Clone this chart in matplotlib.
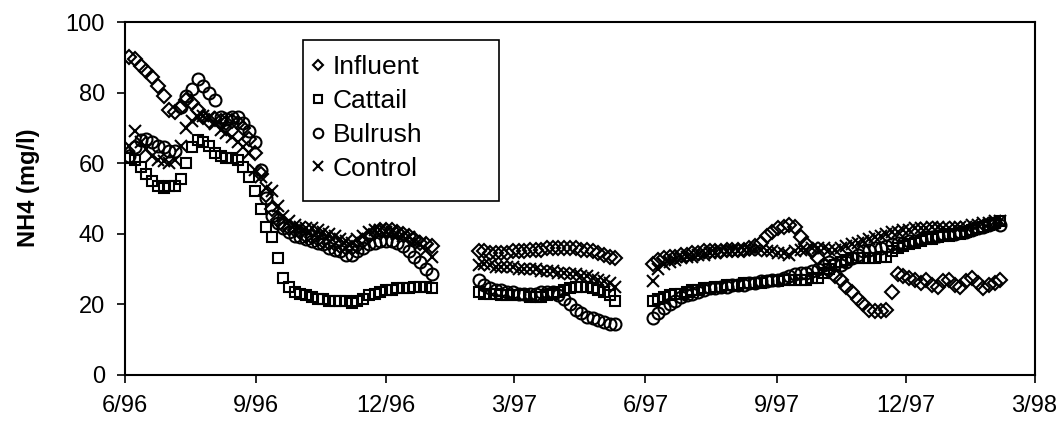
"""
Recreate the NH4 time-series scatter (influent vs. three wetland cells).
"""

import matplotlib

matplotlib.use("Agg")
import matplotlib.pyplot as plt
import pandas as pd
from matplotlib.patches import Rectangle

# ---------------------------------------------------------------------------
# Data
# ---------------------------------------------------------------------------

START = "1996-06-01"

# sampling days, counted from START; three sampling periods with gaps
sample_day = [
    # Jun 96 - Jan 97
    3, 7, 11, 15, 19, 23, 27, 31, 35, 39,
    43, 47, 51, 55, 59, 63, 67, 71, 75, 79,
    83, 87, 91, 95, 99, 103, 107, 111, 115, 119,
    123, 127, 131, 135, 139, 143, 147, 151, 155, 159,
    163, 167, 171, 175, 179, 183, 187, 191, 195, 199,
    203, 207, 211, 215,
    # Feb 97 - May 97
    248, 252, 256, 260, 264, 268, 272, 276, 280, 284,
    288, 292, 296, 300, 304, 308, 312, 316, 320, 324,
    328, 332, 336, 340, 344,
    # Jun 97 - Feb 98
    370, 374, 378, 382, 386, 390, 394, 398, 402, 406,
    410, 414, 418, 422, 426, 430, 434, 438, 442, 446,
    450, 454, 458, 462, 466, 470, 474, 478, 482, 486,
    490, 494, 498, 502, 506, 510, 514, 518, 522, 526,
    530, 534, 538, 542, 546, 550, 554, 558, 562, 566,
    570, 574, 578, 582, 586, 590, 594, 598, 602, 606,
    610, 614,
]

influent = [
    90, 89.5, 87.5, 86, 84.5, 82, 79, 75, 74.5, 76,
    78, 77, 75, 73, 72, 72.5, 72, 71.5, 72, 71.5,
    70, 67, 63, 57, 51, 47, 44, 42.5, 41.5, 41,
    40.5, 39.5, 39, 38.5, 38, 37.5, 37, 36.5, 36, 36,
    36.5, 38, 39.5, 40.5, 41, 41, 41, 40.5, 40, 39.5,
    38.5, 37.5, 37, 36.5,
    35, 35, 34.5, 34.5, 34.5, 34.5, 35, 35, 35, 35.5,
    35.5, 35.5, 36, 36, 36, 36, 36, 36, 35.5, 35.5,
    35, 34.5, 34, 33.5, 33,
    31.5, 32.5, 33, 33.5, 33.5, 34, 34, 34.5, 34.5, 35,
    35, 35, 35, 35.5, 35.5, 35.5, 35.5, 36, 36.5, 37.5,
    39.5, 40.5, 41.5, 42, 42.5, 42, 39, 37, 35, 33,
    31, 29.5, 28, 27, 25, 23.5, 21.5, 20, 18.5, 18,
    18, 18.5, 23.5, 28.5, 28, 27.5, 27, 26, 27, 25.5,
    25, 26.5, 27, 25.5, 25, 26.5, 27.5, 26, 24.5, 25.5,
    26, 27,
]

cattail = [
    61.5, 61, 59, 57, 55, 53.5, 53, 53.5, 53.5, 55.5,
    60, 64.5, 66.5, 66, 65, 63, 62, 61.5, 61.5, 61,
    59, 56, 52, 47, 42, 39, 33, 27.5, 25, 23.5,
    23, 22.5, 22, 21.5, 21.5, 21, 21, 21, 21, 20.5,
    21, 21.5, 22.5, 23, 23.5, 24, 24, 24.5, 24.5, 24.5,
    25, 25, 25, 24.5,
    23.5, 23, 23, 23, 22.5, 22.5, 22.5, 22.5, 22.5, 22,
    22, 22, 22.5, 23, 23.5, 24, 24.5, 25, 25, 25,
    24.5, 24, 23.5, 22.5, 21,
    21, 21.5, 22, 22.5, 23, 23, 23.5, 24, 24, 24.5,
    24.5, 25, 25, 25.5, 25.5, 25.5, 26, 26, 26, 26,
    26.5, 26.5, 26.5, 27, 27, 27, 27, 27, 27.5, 27.5,
    29, 30, 31, 32, 32.5, 33, 33, 33, 33, 33,
    33.5, 33.5, 35, 36, 36.5, 37, 37.5, 38, 38.5, 38.5,
    39, 39.5, 39.5, 40, 40, 40.5, 41, 41.5, 42, 42.5,
    43, 43.5,
]

bulrush = [
    62, 64.5, 66.5, 67, 66, 65, 64.5, 63.5, 63.5, 76,
    79, 81, 84, 82, 80, 78, 73, 72.5, 73, 73,
    71.5, 69, 66, 58, 50, 45, 43, 41.5, 40.5, 39.5,
    39, 38.5, 38, 37.5, 37, 36, 35.5, 35, 34, 34,
    35, 36, 37, 37.5, 38, 38, 38, 37.5, 36.5, 35,
    33.5, 32, 30, 28.5,
    27, 25.5, 24.5, 24, 24, 23.5, 23.5, 23, 23, 23,
    23, 23.5, 23.5, 23.5, 22.5, 21.5, 20, 18.5, 17.5, 16.5,
    16, 15.5, 15, 14.5, 14.5,
    16, 17.5, 19, 20, 21, 22, 22.5, 23, 23.5, 24,
    24.5, 24.5, 25, 25, 25.5, 25.5, 25.5, 26, 26, 26.5,
    26.5, 27, 27, 27.5, 28, 28.5, 29, 29, 29.5, 30,
    31, 32, 31.5, 31, 32, 33, 34, 35, 35.5, 36,
    36, 36.5, 37, 37.5, 37.5, 38, 38, 38.5, 39, 39,
    39.5, 40, 40, 40, 40.5, 40.5, 41, 41.5, 42, 42.5,
    43, 42.5,
]

control = [
    65, 69, 66, 64, 62, 61, 60.5, 60, 61, 65,
    70, 72, 73, 73.5, 73, 71, 69.5, 68.5, 67.5, 66,
    64.5, 63, 58, 56, 53, 52, 48, 45, 43.5, 42.5,
    42, 41.5, 41.5, 41, 40.5, 40, 39.5, 38.5, 38, 37.5,
    38.5, 39.5, 40.5, 41, 41, 40.5, 40.5, 40, 39.5, 39,
    38, 37, 35.5, 33.5,
    31, 31.5, 31, 30.5, 30.5, 30.5, 30.5, 30, 30, 30,
    30, 29.5, 29.5, 29.5, 29, 29, 28.5, 28.5, 28, 28,
    27.5, 27, 26.5, 26, 25,
    26.5, 30, 31.5, 32, 32.5, 33, 33.5, 33.5, 34, 34,
    34.5, 34.5, 35, 35, 35, 35, 35.5, 35.5, 35.5, 35.5,
    35, 35, 34.5, 34.5, 34, 35, 35.5, 35.5, 36, 36,
    36, 35.5, 35.5, 36, 36.5, 37, 37.5, 38, 38.5, 39,
    39.5, 40, 40.5, 40.5, 41, 41, 41.5, 41.5, 41.5, 42,
    42, 41.5, 41.5, 42, 42, 42, 42.5, 42.5, 43, 43,
    43.5, 43.5,
]

series_names = ["Influent", "Cattail", "Bulrush", "Control"]
series_values = [influent, cattail, bulrush, control]

tick_dates = [
    "1996-06-01", "1996-09-01", "1996-12-01", "1997-03-01",
    "1997-06-01", "1997-09-01", "1997-12-01", "1998-03-01",
]
tick_labels = ["6/96", "9/96", "12/96", "3/97", "6/97", "9/97", "12/97", "3/98"]
y_ticks = [0, 20, 40, 60, 80, 100]

# ---------------------------------------------------------------------------
# Styling
# ---------------------------------------------------------------------------

MARKERS = {
    "Influent": dict(marker="D", ms=7.0),
    "Cattail": dict(marker="s", ms=7.8),
    "Bulrush": dict(marker="o", ms=8.6),
    "Control": dict(marker="x", ms=8.2),
}

plt.rcParams.update(
    {
        "font.family": ["Liberation Sans", "DejaVu Sans"],
        "axes.linewidth": 1.5,
        "xtick.major.size": 5.5,
        "ytick.major.size": 5.5,
        "xtick.major.width": 1.2,
        "ytick.major.width": 1.2,
    }
)

fig = plt.figure(figsize=(10.6, 4.25), dpi=100)
ax = fig.add_axes([0.118, 0.118, 0.858, 0.830])

dates = pd.Timestamp(START) + pd.to_timedelta(sample_day, unit="D")

for name, vals in zip(series_names, series_values):
    ax.plot(
        dates,
        vals,
        linestyle="none",
        color="black",
        mfc="none",
        mec="black",
        mew=1.5,
        label=name,
        **MARKERS[name],
    )

ax.set_xlim(pd.Timestamp(tick_dates[0]), pd.Timestamp(tick_dates[-1]))
ax.set_ylim(y_ticks[0], y_ticks[-1])
ax.set_xticks(pd.to_datetime(tick_dates))
ax.set_xticklabels(tick_labels)
ax.set_yticks(y_ticks)
ax.tick_params(direction="out", labelsize=17, pad=9)
ax.set_ylabel("NH4 (mg/l)", fontsize=17, fontweight="bold")
ax.yaxis.set_label_coords(-0.093, 0.53)

# legend box is wider than its entries in the original, so draw it separately
ax.add_patch(
    Rectangle(
        (0.1956, 0.493), 0.2155, 0.456,
        transform=ax.transAxes, fill=False, edgecolor="black", linewidth=1.2, zorder=5,
    )
)
ax.legend(
    loc="upper left",
    bbox_to_anchor=(0.204, 0.906),
    borderaxespad=0,
    borderpad=0,
    frameon=False,
    fontsize=19,
    markerscale=0.8,
    handlelength=0.55,
    handletextpad=0.3,
    labelspacing=0.37,
)

fig.savefig("out.png", dpi=100)
